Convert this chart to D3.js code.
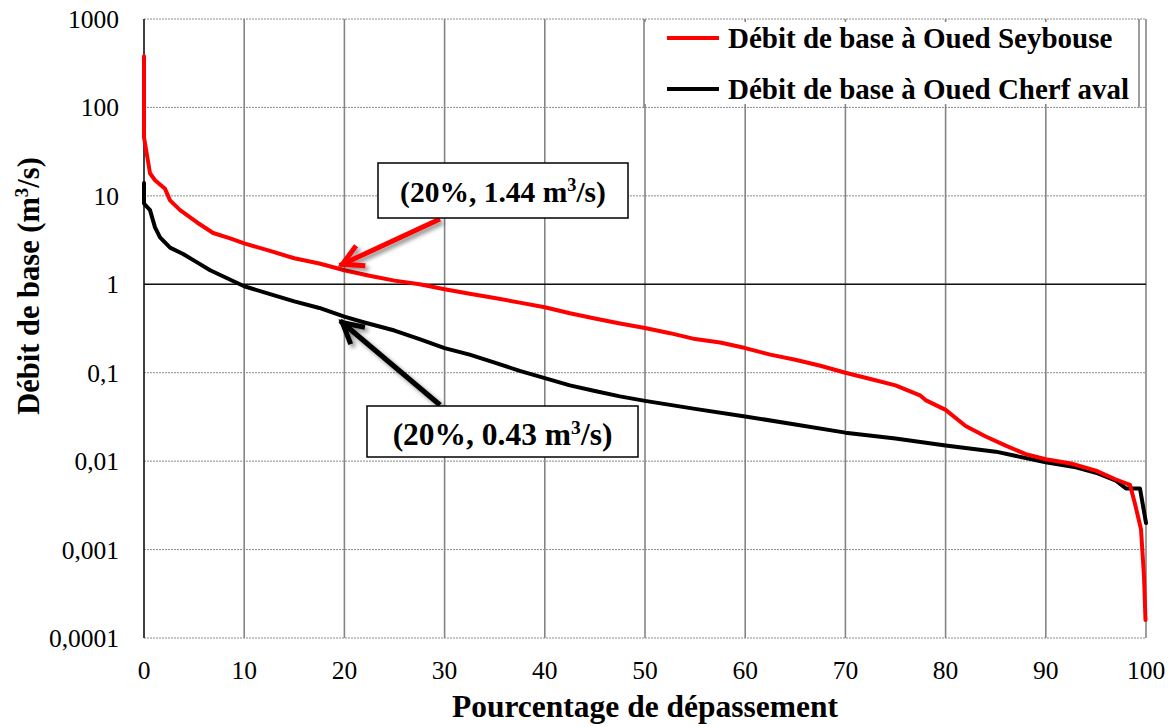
<!DOCTYPE html>
<html>
<head>
<meta charset="utf-8">
<script src="https://cdn.jsdelivr.net/npm/d3@7"></script>
<style>
  html, body { margin: 0; padding: 0; background: #fff; }
  svg { display: block; }
</style>
</head>
<body>
<svg id="chart" width="1170" height="727" font-family="'Liberation Serif', 'Times New Roman', Times, serif"></svg>
<script>
// Flow-duration curves: base flow (m³/s) vs exceedance percentage
const seybouse = [
  [0, 380], [0, 46], [0.6, 18], [1.1, 15], [2.1, 12], [2.6, 8.9], [3.6, 6.9], [5.3, 5.0],
  [6.9, 3.8], [8.6, 3.3], [10, 2.9], [12.5, 2.4], [15, 1.97], [17.5, 1.72], [20, 1.44],
  [22.5, 1.25], [25, 1.1], [27.5, 1.0], [30, 0.88], [32.5, 0.78], [35, 0.7], [37.5, 0.62],
  [40, 0.55], [42.5, 0.47], [45, 0.41], [47.5, 0.36], [50, 0.32], [52.5, 0.28], [55, 0.24],
  [57.5, 0.22], [60, 0.19], [62.5, 0.16], [65, 0.14], [67.5, 0.12], [70, 0.1], [72.5, 0.085],
  [75, 0.072], [77.5, 0.055], [78, 0.049], [80, 0.038], [82, 0.025], [84, 0.019], [86, 0.015],
  [88, 0.012], [90, 0.0105], [92.5, 0.0094], [95, 0.0078], [97, 0.0062], [98.4, 0.0054],
  [98.9, 0.0033], [99.5, 0.0017], [99.8, 0.0005], [99.95, 0.00016]
];
const cherfAval = [
  [0, 14], [0, 8.2], [0.6, 6.9], [1.1, 4.4], [1.6, 3.4], [2.6, 2.6], [3.9, 2.2], [5.3, 1.77],
  [6.6, 1.44], [8.3, 1.17], [10, 0.95], [12.5, 0.78], [15, 0.64], [17.5, 0.54], [20, 0.43],
  [22, 0.37], [25, 0.30], [27.5, 0.24], [30, 0.19], [32.5, 0.16], [35, 0.13], [37.5, 0.105],
  [40, 0.087], [42.5, 0.072], [45, 0.062], [47.5, 0.054], [50, 0.048], [55, 0.039], [60, 0.032],
  [65, 0.026], [70, 0.021], [75, 0.018], [80, 0.015], [85, 0.0128], [90, 0.0097],
  [93, 0.0085], [95, 0.0074], [97, 0.006], [98, 0.0049], [99.4, 0.0049], [100, 0.002]
];
const xTicks = [0, 10, 20, 30, 40, 50, 60, 70, 80, 90, 100];
const yTicks = [0.0001, 0.001, 0.01, 0.1, 1, 10, 100, 1000];
const yTickLabels = ["0,0001", "0,001", "0,01", "0,1", "1", "10", "100", "1000"];
const seriesNames = ["Débit de base à Oued Seybouse", "Débit de base à Oued Cherf aval"];
const seriesColors = ["#ff0000", "#000000"];
const callouts = [
  { p: 20, v: 1.44, label: "(20%, 1.44 m", color: "#ff0000" },
  { p: 20, v: 0.43, label: "(20%, 0.43 m", color: "#000000" }
];

const svg = d3.select("#chart");
const plotL = 144, plotR = 1146, plotT = 19, plotB = 638;

const x = d3.scaleLinear().domain([0, 100]).range([plotL, plotR]);
const y = d3.scaleLog().domain([0.0001, 1000]).range([plotB, plotT]);

// drop shadow for the callout arrows
const defs = svg.append("defs");
const f = defs.append("filter").attr("id", "shadow").attr("x", "-30%").attr("y", "-30%")
  .attr("width", "160%").attr("height", "160%");
f.append("feGaussianBlur").attr("in", "SourceAlpha").attr("stdDeviation", 2).attr("result", "b");
f.append("feOffset").attr("in", "b").attr("dx", 3).attr("dy", 3).attr("result", "o");
f.append("feComponentTransfer").attr("in", "o").attr("result", "o2")
  .append("feFuncA").attr("type", "linear").attr("slope", 0.45);
const m = f.append("feMerge");
m.append("feMergeNode").attr("in", "o2");
m.append("feMergeNode").attr("in", "SourceGraphic");

// horizontal gridlines (dotted)
svg.append("g").selectAll("line").data(yTicks).join("line")
  .attr("x1", plotL).attr("x2", plotR)
  .attr("y1", d => y(d)).attr("y2", d => y(d))
  .attr("stroke", "#8c8c8c").attr("stroke-width", 1).attr("stroke-dasharray", "2,1");

// vertical gridlines
svg.append("g").selectAll("line").data(xTicks.slice(1)).join("line")
  .attr("x1", d => x(d)).attr("x2", d => x(d))
  .attr("y1", plotT).attr("y2", plotB)
  .attr("stroke", "#858585").attr("stroke-width", 1.6);

// horizontal axis line crossing at 1
svg.append("line").attr("x1", plotL).attr("x2", plotR)
  .attr("y1", y(1)).attr("y2", y(1)).attr("stroke", "#111").attr("stroke-width", 1.6);

// vertical axis
svg.append("line").attr("x1", plotL).attr("x2", plotL)
  .attr("y1", plotT).attr("y2", plotB).attr("stroke", "#111").attr("stroke-width", 1.6);

// y tick labels
svg.append("g").selectAll("text").data(yTicks).join("text")
  .attr("x", 119).attr("y", d => y(d) + 9)
  .attr("text-anchor", "end").attr("font-size", 25.5).attr("fill", "#000")
  .text((d, i) => yTickLabels[i]);

// x tick labels
svg.append("g").selectAll("text").data(xTicks).join("text")
  .attr("x", d => x(d)).attr("y", 679)
  .attr("text-anchor", "middle").attr("font-size", 25.5).attr("fill", "#000")
  .text(d => d);

// axis titles
svg.append("text").attr("x", (plotL + plotR) / 2).attr("y", 717)
  .attr("text-anchor", "middle").attr("font-size", 31.5).attr("font-weight", "bold")
  .text("Pourcentage de dépassement");

const yt = svg.append("text")
  .attr("transform", `translate(39, 286) rotate(-90)`)
  .attr("text-anchor", "middle").attr("font-size", 30.5).attr("font-weight", "bold");
yt.append("tspan").text("Débit de base (m");
yt.append("tspan").attr("dy", -11).attr("font-size", 19).text("3");
yt.append("tspan").attr("dy", 11).text("/s)");

// curves
const line = d3.line().x(d => x(d[0])).y(d => y(d[1]));
[[cherfAval, seriesColors[1]], [seybouse, seriesColors[0]]].forEach(([data, color]) => {
  svg.append("path").datum(data)
    .attr("d", line)
    .attr("fill", "none")
    .attr("stroke", color)
    .attr("stroke-width", 4)
    .attr("stroke-linejoin", "round")
    .attr("stroke-linecap", "round");
});

// legend
const lg = svg.append("g");
lg.append("rect").attr("x", 644).attr("y", 22).attr("width", 495).attr("height", 82).attr("fill", "#fff");
[644, 1139].forEach(xx => lg.append("line").attr("x1", xx).attr("x2", xx)
  .attr("y1", plotT).attr("y2", y(100)).attr("stroke", "#858585").attr("stroke-width", 1.6));
seriesNames.forEach((name, i) => {
  const yy = 38 + i * 51;
  lg.append("line").attr("x1", 667).attr("x2", 719).attr("y1", yy).attr("y2", yy)
    .attr("stroke", seriesColors[i]).attr("stroke-width", 4);
  lg.append("text").attr("x", 728).attr("y", yy + 10)
    .attr("font-size", 29).attr("font-weight", "bold").text(name);
});

// callouts: arrow from a labelled box to the point on each curve
const boxes = [
  { x: 378, y: 163, w: 250, h: 55, tail: [440, 219], off: [-2, -6], fs: 29.5, dy: 11 },
  { x: 367, y: 406, w: 271, h: 51, tail: [440, 405], off: [-2, 6], fs: 31.5, dy: 13 }
];
callouts.forEach((c, i) => {
  const b = boxes[i];
  const tx = x(c.p) + b.off[0], ty = y(c.v) + b.off[1];
  const [sx, sy] = b.tail;
  const ang = Math.atan2(ty - sy, tx - sx);
  const L = 23, spread = 0.5;
  const head = `M${tx - L * Math.cos(ang - spread)},${ty - L * Math.sin(ang - spread)} L${tx},${ty} L${tx - L * Math.cos(ang + spread)},${ty - L * Math.sin(ang + spread)}`;
  const g = svg.append("g").attr("filter", "url(#shadow)");
  g.append("line").attr("x1", sx).attr("y1", sy).attr("x2", tx + 3 * Math.cos(ang)).attr("y2", ty + 3 * Math.sin(ang))
    .attr("stroke", c.color).attr("stroke-width", 5);
  g.append("path").attr("d", head).attr("fill", "none").attr("stroke", c.color)
    .attr("stroke-width", 5).attr("stroke-linejoin", "miter");

  svg.append("rect").attr("x", b.x).attr("y", b.y).attr("width", b.w).attr("height", b.h)
    .attr("fill", "#fff").attr("stroke", "#000").attr("stroke-width", 1.5);
  const t = svg.append("text").attr("x", b.x + b.w / 2).attr("y", b.y + b.h / 2 + b.dy)
    .attr("text-anchor", "middle").attr("font-size", b.fs).attr("font-weight", "bold");
  t.append("tspan").text(c.label);
  t.append("tspan").attr("dy", -11).attr("font-size", b.fs * 0.62).text("3");
  t.append("tspan").attr("dy", 11).text("/s)");
});
</script>
</body>
</html>
